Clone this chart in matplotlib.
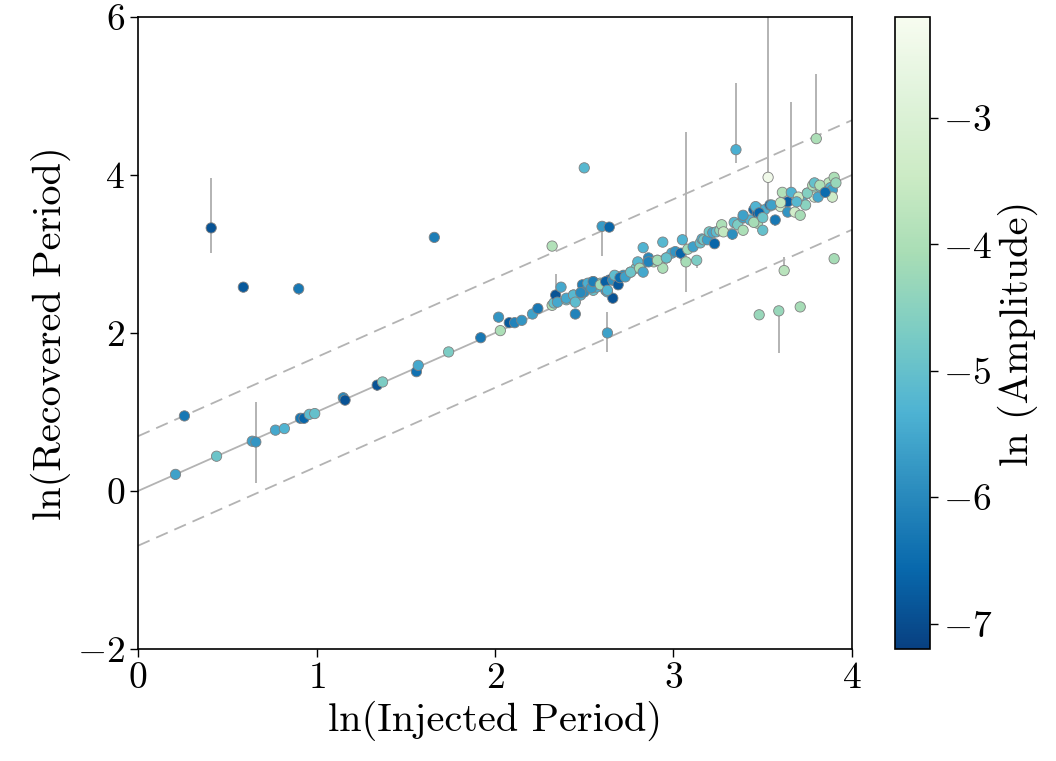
import matplotlib
matplotlib.use("Agg")
import matplotlib.pyplot as plt
import numpy as np

plt.rcParams["font.family"] = "cmr10"
plt.rcParams["mathtext.fontset"] = "cm"
plt.rcParams["axes.formatter.use_mathtext"] = True
plt.rcParams["axes.unicode_minus"] = True

# ln(injected period), ln(recovered period), error bars and ln(amplitude), one entry per star
inj_period = [
    0.21, 0.26, 0.41, 0.44, 0.59, 0.64, 0.66, 0.77, 0.82, 0.90,
    0.91, 0.93, 0.96, 0.99, 1.15, 1.16, 1.34, 1.37, 1.56, 1.57,
    1.66, 1.74, 1.92, 2.02, 2.03, 2.08, 2.11, 2.15, 2.21, 2.24,
    2.32, 2.32, 2.33, 2.34, 2.35, 2.37, 2.40, 2.43, 2.44, 2.45,
    2.48, 2.49, 2.50, 2.50, 2.53, 2.55, 2.55, 2.57, 2.59, 2.60,
    2.61, 2.62, 2.63, 2.63, 2.64, 2.64, 2.66, 2.66, 2.67, 2.69,
    2.72, 2.76, 2.79, 2.82, 2.83, 2.86, 2.89, 2.91, 2.94, 2.94,
    2.96, 2.99, 3.01, 3.04, 3.05, 3.07, 3.08, 3.11, 3.13, 3.15,
    3.16, 3.17, 3.19, 3.20, 3.22, 3.23, 3.24, 3.26, 3.27, 3.28,
    3.33, 3.34, 3.35, 3.36, 3.39, 3.39, 3.43, 3.45, 3.47, 3.47,
    3.47, 3.48, 3.50, 3.51, 3.53, 3.54, 3.57, 3.59, 3.60, 3.61,
    3.62, 3.64, 3.64, 3.66, 3.68, 3.71, 3.71, 3.72, 3.74, 3.75,
    3.78, 3.79, 3.80, 3.81, 3.82, 3.85, 3.87, 3.88, 3.89, 3.89,
    3.90, 3.90, 3.91,
    2.40, 2.44, 2.48, 2.52, 2.54, 2.55, 2.59, 2.62, 2.63, 2.66,
    2.67, 2.69, 2.70, 2.73, 2.76, 2.80, 2.81, 2.83, 2.86, 2.91,
    2.96, 2.45, 3.70, 3.75, 3.78, 3.79, 3.82, 3.85, 3.46, 3.48,
    3.55, 3.60, 3.69, 3.39, 3.45, 3.50,
]
rec_period = [
    0.21, 0.95, 3.33, 0.44, 2.58, 0.63, 0.62, 0.77, 0.79, 2.56,
    0.92, 0.92, 0.97, 0.98, 1.18, 1.15, 1.34, 1.38, 1.51, 1.59,
    3.21, 1.76, 1.94, 2.20, 2.03, 2.13, 2.13, 2.16, 2.24, 2.31,
    3.10, 2.35, 2.38, 2.48, 2.39, 2.58, 2.42, 2.44, 2.48, 2.24,
    2.48, 2.61, 4.09, 2.52, 2.63, 2.65, 2.54, 2.58, 2.63, 3.35,
    2.63, 2.54, 2.00, 2.52, 3.34, 2.67, 2.44, 2.67, 2.70, 2.71,
    2.73, 2.77, 2.82, 2.86, 3.08, 2.95, 2.90, 2.92, 2.82, 3.15,
    2.95, 3.01, 3.03, 3.01, 3.18, 2.90, 3.06, 3.09, 2.92, 3.14,
    3.19, 3.18, 3.18, 3.28, 3.27, 3.13, 3.28, 3.30, 3.37, 3.28,
    3.25, 3.40, 4.32, 3.37, 3.46, 3.30, 3.43, 3.56, 3.58, 3.52,
    3.39, 2.23, 3.30, 3.56, 3.97, 3.62, 3.43, 2.28, 3.60, 3.78,
    2.79, 3.66, 3.53, 3.78, 3.53, 3.49, 2.33, 3.68, 3.62, 3.77,
    3.79, 3.72, 4.46, 3.72, 3.85, 3.80, 3.90, 3.84, 3.81, 3.72,
    3.97, 2.94, 3.90,
    2.44, 2.48, 2.51, 2.63, 2.57, 2.65, 2.61, 2.65, 2.54, 2.67,
    2.73, 2.61, 2.70, 2.71, 2.77, 2.90, 2.82, 2.77, 2.90, 2.92,
    2.95, 2.39, 3.72, 3.77, 3.87, 3.90, 3.87, 3.78, 3.60, 3.52,
    3.62, 3.65, 3.66, 3.49, 3.40, 3.46,
]
rec_err_lo = [
    0.00, 0.05, 0.32, 0.00, 0.00, 0.00, 0.52, 0.00, 0.00, 0.08,
    0.00, 0.00, 0.00, 0.00, 0.00, 0.00, 0.08, 0.00, 0.00, 0.00,
    0.06, 0.00, 0.00, 0.00, 0.00, 0.00, 0.00, 0.00, 0.00, 0.00,
    0.00, 0.00, 0.00, 0.00, 0.00, 0.00, 0.00, 0.00, 0.00, 0.00,
    0.00, 0.00, 0.00, 0.00, 0.00, 0.00, 0.00, 0.00, 0.00, 0.38,
    0.00, 0.00, 0.24, 0.00, 0.00, 0.00, 0.00, 0.00, 0.00, 0.00,
    0.00, 0.00, 0.00, 0.00, 0.00, 0.00, 0.00, 0.00, 0.00, 0.00,
    0.00, 0.00, 0.00, 0.10, 0.00, 0.38, 0.00, 0.00, 0.10, 0.00,
    0.00, 0.00, 0.00, 0.00, 0.00, 0.00, 0.00, 0.00, 0.00, 0.00,
    0.07, 0.00, 0.17, 0.00, 0.00, 0.00, 0.00, 0.00, 0.00, 0.00,
    0.00, 0.00, 0.00, 0.00, 0.29, 0.08, 0.08, 0.53, 0.00, 0.00,
    0.00, 0.00, 0.00, 0.07, 0.00, 0.00, 0.00, 0.00, 0.00, 0.00,
    0.00, 0.00, 0.00, 0.00, 0.00, 0.00, 0.00, 0.00, 0.00, 0.08,
    0.00, 0.00, 0.00,
    0.00, 0.00, 0.00, 0.00, 0.00, 0.00, 0.00, 0.00, 0.00, 0.00,
    0.00, 0.00, 0.00, 0.00, 0.00, 0.00, 0.00, 0.00, 0.00, 0.00,
    0.00, 0.00, 0.00, 0.00, 0.00, 0.00, 0.00, 0.00, 0.00, 0.00,
    0.00, 0.00, 0.00, 0.00, 0.00, 0.00,
]
rec_err_hi = [
    0.00, 0.00, 0.63, 0.00, 0.00, 0.00, 0.51, 0.00, 0.00, 0.00,
    0.00, 0.00, 0.00, 0.00, 0.00, 0.00, 0.00, 0.00, 0.00, 0.00,
    0.00, 0.00, 0.00, 0.00, 0.00, 0.00, 0.00, 0.00, 0.00, 0.00,
    0.00, 0.00, 0.00, 0.27, 0.00, 0.00, 0.00, 0.00, 0.00, 0.00,
    0.00, 0.00, 0.00, 0.00, 0.00, 0.00, 0.00, 0.00, 0.00, 0.00,
    0.00, 0.00, 0.26, 0.00, 0.00, 0.00, 0.00, 0.00, 0.00, 0.00,
    0.00, 0.00, 0.00, 0.00, 0.00, 0.00, 0.00, 0.00, 0.00, 0.00,
    0.00, 0.00, 0.00, 0.00, 0.00, 1.65, 0.00, 0.00, 0.00, 0.00,
    0.00, 0.00, 0.00, 0.00, 0.00, 0.00, 0.00, 0.00, 0.00, 0.00,
    0.00, 0.00, 0.84, 0.00, 0.00, 0.00, 0.00, 0.00, 0.00, 0.00,
    0.00, 0.00, 0.00, 0.00, 2.50, 0.00, 0.00, 0.00, 0.00, 0.00,
    0.17, 0.00, 0.00, 1.14, 0.00, 0.00, 0.00, 0.00, 0.00, 0.00,
    0.00, 0.00, 0.82, 0.00, 0.00, 0.00, 0.00, 0.00, 0.00, 0.00,
    0.00, 0.00, 0.00,
    0.00, 0.00, 0.00, 0.00, 0.00, 0.00, 0.00, 0.00, 0.00, 0.00,
    0.00, 0.00, 0.00, 0.00, 0.00, 0.00, 0.00, 0.00, 0.00, 0.00,
    0.00, 0.00, 0.00, 0.00, 0.00, 0.00, 0.00, 0.00, 0.00, 0.00,
    0.00, 0.00, 0.00, 0.00, 0.00, 0.00,
]
amplitude = [
    -5.6, -6.3, -6.9, -4.9, -6.8, -5.6, -5.8, -5.5, -5.3, -6.3,
    -6.3, -6.6, -5.1, -5.0, -6.0, -6.9, -6.9, -4.7, -6.4, -5.5,
    -6.2, -4.7, -6.3, -5.8, -4.0, -6.8, -6.1, -5.8, -5.6, -6.3,
    -3.9, -4.0, -5.0, -6.9, -5.5, -5.5, -5.0, -5.6, -4.1, -6.1,
    -5.3, -6.2, -5.2, -5.9, -5.5, -5.8, -5.0, -5.4, -4.0, -5.7,
    -5.2, -5.7, -5.6, -5.4, -6.6, -6.8, -6.9, -5.0, -4.5, -5.5,
    -5.9, -5.2, -4.8, -5.7, -5.3, -6.0, -4.1, -5.5, -4.0, -5.2,
    -3.9, -5.4, -5.8, -6.6, -5.3, -4.1, -4.2, -5.6, -4.7, -5.0,
    -5.4, -4.8, -5.6, -4.8, -5.5, -6.6, -5.1, -4.3, -4.0, -3.6,
    -5.9, -5.2, -5.4, -4.7, -5.6, -4.0, -5.3, -6.6, -3.8, -6.8,
    -4.0, -4.3, -5.0, -5.4, -2.4, -6.5, -6.3, -4.3, -3.3, -3.9,
    -3.8, -6.7, -5.8, -5.3, -3.3, -4.1, -4.1, -5.4, -4.5, -5.0,
    -4.4, -3.0, -4.0, -5.5, -5.0, -6.8, -3.7, -5.3, -5.6, -3.4,
    -4.0, -4.1, -4.3,
    -5.5, -5.2, -6.0, -5.4, -5.7, -6.2, -4.2, -6.7, -5.3, -5.9,
    -5.1, -6.8, -6.5, -5.6, -4.9, -5.2, -4.1, -5.5, -6.1, -4.1,
    -5.0, -5.1, -3.5, -4.6, -3.9, -5.0, -4.0, -6.5, -5.3, -6.6,
    -5.6, -3.6, -5.2, -5.6, -4.1, -4.9,
]

line_x = [0, 4]
factor_two = np.log(2)
cbar_ticks = [-7, -6, -5, -4, -3]


def main():
    fig = plt.figure(figsize=(10.56, 7.61), dpi=100)
    ax = fig.add_axes([0.1307, 0.1472, 0.6761, 0.8305])
    cax = fig.add_axes([0.8475, 0.1472, 0.0331, 0.8305])

    x = np.array(line_x)
    ax.plot(x, x, color="0.7", lw=1.3, zorder=1)
    ax.plot(x, x + factor_two, color="0.7", lw=1.3, ls="--", dashes=(7, 4), zorder=1)
    ax.plot(x, x - factor_two, color="0.7", lw=1.3, ls="--", dashes=(7, 4), zorder=1)

    ax.errorbar(inj_period, rec_period, yerr=[rec_err_lo, rec_err_hi], fmt="none",
                ecolor="0.7", elinewidth=1.4, capsize=0, zorder=2)
    sc = ax.scatter(inj_period, rec_period, c=amplitude, cmap="GnBu_r",
                    vmin=-7.2, vmax=-2.2, s=55, edgecolors="0.5", linewidths=0.6, zorder=3)

    ax.set_xlim(0, 4)
    ax.set_ylim(-2, 6)
    ax.set_xticks([0, 1, 2, 3, 4])
    ax.set_yticks([-2, 0, 2, 4, 6])
    ax.tick_params(labelsize=27, length=6, width=1)
    ax.set_xlabel("ln(Injected Period)", fontsize=29)
    ax.set_ylabel("ln(Recovered Period)", fontsize=29)
    for sp in ax.spines.values():
        sp.set_linewidth(1.2)

    cb = fig.colorbar(sc, cax=cax, ticks=cbar_ticks)
    cb.ax.tick_params(labelsize=27, length=6, width=1)
    cb.set_label("ln (Amplitude)", fontsize=29)
    cb.outline.set_linewidth(1.2)

    fig.savefig("out.png", dpi=100)
    plt.close(fig)


if __name__ == "__main__":
    main()
